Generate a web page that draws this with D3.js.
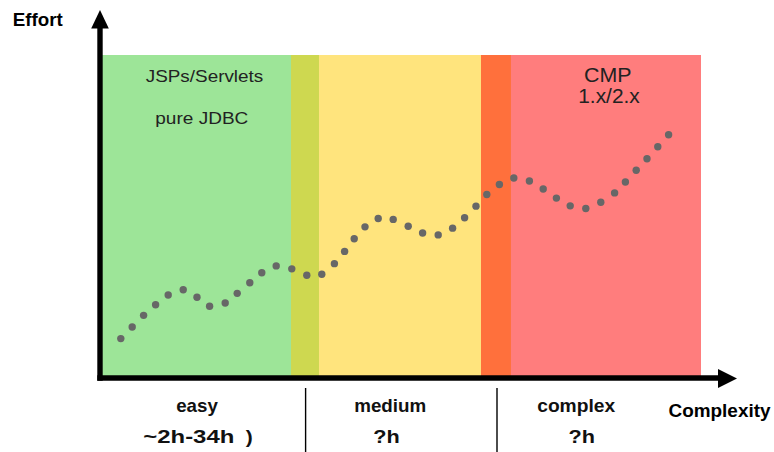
<!DOCTYPE html>
<html>
<head>
<meta charset="utf-8">
<script src="https://cdn.jsdelivr.net/npm/d3@7"></script>
<style>
  html, body { margin: 0; padding: 0; background: #fff; }
  svg { display: block; font-family: "Liberation Sans", Arial, sans-serif; }
</style>
</head>
<body>
<svg id="chart" width="774" height="452"></svg>
<script>
// ---- data ----
const bandNames = ["easy-zone", "easy-medium", "medium-zone", "medium-complex", "complex-zone"];
const bandStarts = [0, 31.67, 36.33, 63.33, 68.33];
const bandEnds = [31.67, 36.33, 63.33, 68.33, 100];
const bandColors = ["#9de598", "#ced850", "#ffe47d", "#ff703c", "#ff7d7d"];

const complexity = [3.3, 5.2, 7.1, 9.1, 11.2, 13.7, 16.0, 18.1, 20.7, 22.7, 24.8, 26.8, 29.2, 31.8,
  34.3, 36.8, 38.9, 40.6, 42.2, 44.0, 46.2, 48.7, 51.2, 53.6, 56.2, 58.6, 60.6, 62.5, 64.3,
  66.4, 68.8, 71.4, 73.7, 75.9, 78.2, 80.8, 83.3, 85.6, 87.4, 89.2, 91.0, 92.8, 94.6];
const effort = [12.2, 15.8, 19.4, 22.7, 25.7, 27.3, 25.0, 22.2, 23.2, 26.2, 29.5, 32.6, 34.7, 33.8,
  31.8, 32.1, 35.4, 39.2, 43.1, 46.8, 49.4, 49.1, 47.0, 44.9, 44.3, 46.4, 49.6, 53.2, 56.8,
  59.9, 61.9, 61.0, 58.5, 55.7, 53.3, 52.5, 54.4, 57.3, 60.7, 64.3, 67.9, 71.6, 75.3];

const categories = ["easy", "medium", "complex"];
const categoryHours = ["~2h-34h", "?h", "?h"];
const categoryCenters = [16, 48.2, 79.2];
const categoryBounds = [34.1, 66.0];

// ---- scales ----
const svg = d3.select("#chart");
const x = d3.scaleLinear().domain([0, 100]).range([101, 701]);
const y = d3.scaleLinear().domain([0, 100]).range([378, 55]);

// bands
svg.append("g").selectAll("rect").data(bandNames).join("rect")
  .attr("x", (d, i) => x(bandStarts[i]))
  .attr("width", (d, i) => x(bandEnds[i]) - x(bandStarts[i]))
  .attr("y", y(100))
  .attr("height", y(0) - y(100))
  .attr("fill", (d, i) => bandColors[i]);

// dots
svg.append("g").selectAll("circle").data(complexity).join("circle")
  .attr("cx", (d) => x(d))
  .attr("cy", (d, i) => y(effort[i]))
  .attr("r", 3.7)
  .attr("fill", "#676767");

// axes
const ax = svg.append("g");
const x0 = x(0) - 1, y0 = y(0);
ax.append("line").attr("x1", x0).attr("x2", x0).attr("y1", y0 + 2.7).attr("y2", 27)
  .attr("stroke", "#000").attr("stroke-width", 5.4);
ax.append("path").attr("d", `M${x0},10 L${x0 + 8.8},28.5 L${x0 - 8.8},28.5 Z`).attr("fill", "#000");
ax.append("line").attr("x1", x0 - 2.7).attr("x2", 720).attr("y1", y0).attr("y2", y0)
  .attr("stroke", "#000").attr("stroke-width", 5.4);
ax.append("path").attr("d", `M737,${y0 + 0.5} L718,${y0 - 9} L718,${y0 + 10} Z`).attr("fill", "#000");

// separators
svg.append("g").selectAll("line").data(categoryBounds).join("line")
  .attr("x1", d => x(d)).attr("x2", d => x(d))
  .attr("y1", 388).attr("y2", 452)
  .attr("stroke", "#000").attr("stroke-width", 1.4);

// texts
function txt(t, cx, by, size, weight, len, color) {
  const el = svg.append("text").text(t)
    .attr("x", cx).attr("y", by)
    .attr("text-anchor", "middle")
    .attr("font-size", size)
    .attr("font-weight", weight)
    .attr("fill", color || "#111");
  if (len) el.attr("textLength", len).attr("lengthAdjust", "spacingAndGlyphs");
  return el;
}
txt("Effort", 37.7, 26, 18.5, "bold", 50, "#000");
txt("Complexity", 719.5, 417, 18.5, "bold", 102, "#000");
txt("JSPs/Servlets", 204.5, 81.7, 17, "normal", 117.5, "#222");
txt("pure JDBC", 201.8, 123.5, 17, "normal", 93, "#222");
txt("CMP", 607.8, 82.3, 19.5, "normal", 47.5, "#222");
txt("1.x/2.x", 609, 103.3, 19.5, "normal", 61.5, "#222");

const catWidths = [41.6, 72, 78];
categories.forEach((c, i) => {
  txt(c, x(categoryCenters[i]), 412, 19, "bold", catWidths[i], "#111");
});
txt(categoryHours[0], 188.8, 443.3, 18, "bold", 91, "#111");
txt(")", 249.2, 443.3, 18, "bold", 7, "#111");
txt(categoryHours[1], 386.5, 443.3, 18, "bold", 26.5, "#111");
txt(categoryHours[2], 581.7, 443.3, 18, "bold", 26.5, "#111");
</script>
</body>
</html>
